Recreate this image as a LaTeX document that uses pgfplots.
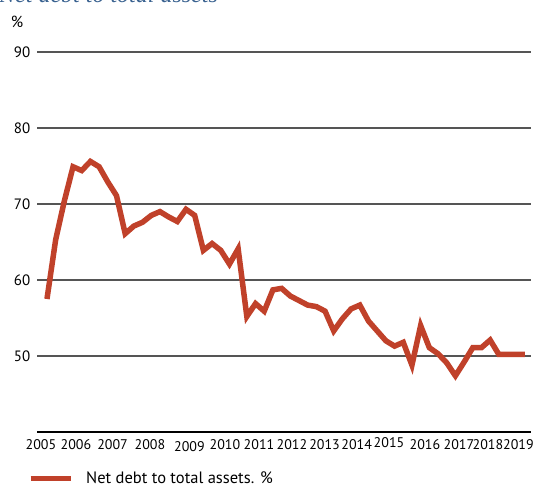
\documentclass[border=0pt]{standalone}
\usepackage{pgfplots}
\pgfplotsset{compat=1.18}
\usepackage{fontspec}
\setmainfont{PT Sans}
\newfontfamily\titlefont{Liberation Serif}
\definecolor{linered}{HTML}{C0412A}
\definecolor{titleblue}{HTML}{3A6290}
\definecolor{gridgray}{HTML}{555555}

\begin{document}
\begin{tikzpicture}
\useasboundingbox (0pt,0pt) rectangle (536pt,-488pt);
\node[anchor=base west, inner sep=0pt, text=titleblue, font=\titlefont\itshape\fontsize{24}{24}\selectfont] at (-1pt,-2pt) {Net debt to total assets};
\node[anchor=center, inner sep=0pt, font=\fontsize{16}{16}\selectfont] at (17pt,-22pt) {\%};
\begin{axis}[
  at={(37.5pt,-432pt)}, anchor=south west,
  scale only axis, width=493.5pt, height=380pt,
  xmin=-1.09, xmax=55.7, ymin=40, ymax=90,
  axis line style={draw=none},
  ytick={50,60,70,80,90},
  ymajorgrids, grid style={gridgray, line width=1.2pt},
  major tick length=0pt,
  xtick={-0.69,3.34,7.55,11.85,16.39,20.48,24.40,28.19,31.94,35.64,39.36,43.50,47.41,50.75,54.25},
  xticklabels={2005,2006,2007,2008,\raisebox{-2.5pt}{2009},2010,2011,2012,2013,2014,\raisebox{1.5pt}{2015},2016,2017,2018,2019},
  yticklabel style={font=\fontsize{15}{15}\selectfont, inner sep=0pt, anchor=east, xshift=-7pt},
  xticklabel style={font=\fontsize{14}{14}\selectfont, inner sep=0pt, anchor=north, yshift=-7pt, text height=10pt, text depth=0pt},
  /pgf/number format/assume math mode=true,
  clip=false,
  legend style={at={(0,0)}, anchor=west, xshift=-9.5pt, yshift=-46.5pt, draw=none, fill=none, inner sep=0pt, column sep=13pt, font=\fontsize{16.5}{16.5}\selectfont, nodes={inner sep=0pt}},
  legend image code/.code={\draw[#1, line width=5pt] (0pt,0pt) -- (40pt,0pt);},
]
\draw[black, line width=2.2pt] (rel axis cs:0,0) -- (rel axis cs:1,0);
\addplot[linered, line width=5.5pt] coordinates {
(0,57.5) (1,65.3) (2,70.4) (3,74.9) (4,74.4) (5,75.6) (6,74.9) (7,72.9)
(8,71.1) (9,66.1) (10,67.1) (11,67.6) (12,68.5) (13,69.0) (14,68.3) (15,67.7)
(16,69.3) (17,68.5) (18,63.9) (19,64.8) (20,63.9) (21,62.1) (22,64.1) (23,55.2)
(24,56.9) (25,55.9) (26,58.7) (27,58.9) (28,57.9) (29,57.3) (30,56.7) (31,56.5)
(32,55.9) (33,53.3) (34,54.9) (35,56.2) (36,56.7) (37,54.6) (38,53.3) (39,52.0)
(40,51.3) (41,51.8) (42,48.8) (43,54.0) (44,51.1) (45,50.3) (46,49.1) (47,47.4)
(48,49.2) (49,51.1) (50,51.1) (51,52.1) (52,50.2) (53,50.2) (54,50.2) (55,50.2)
};
\addlegendentry{Net debt to total assets. \%}
\end{axis}
\end{tikzpicture}
\end{document}
